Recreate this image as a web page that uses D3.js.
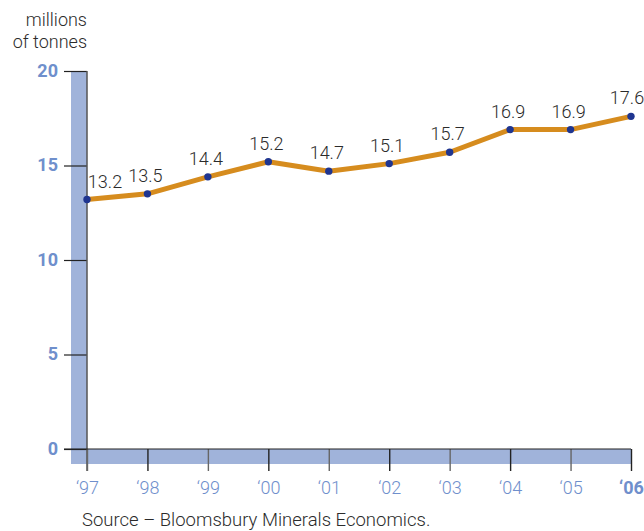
<!DOCTYPE html>
<html>
<head>
<meta charset="utf-8">
<script src="https://cdn.jsdelivr.net/npm/d3@7/dist/d3.min.js"></script>
<style>
  html, body { margin: 0; padding: 0; background: #fff; }
  svg { display: block; }
  text { font-family: Roboto, "Liberation Sans", sans-serif; }
</style>
</head>
<body>
<svg id="chart" width="644" height="531"></svg>
<script>
// Annual tonnage, 1997–2006
const years = ["'97", "'98", "'99", "'00", "'01", "'02", "'03", "'04", "'05", "'06"];
const values = [13.2, 13.5, 14.4, 15.2, 14.7, 15.1, 15.7, 16.9, 16.9, 17.6];
const yTicks = [0, 5, 10, 15, 20];
const unitLines = ["millions", "of tonnes"];
const sourceNote = "Source \u2013 Bloomsbury Minerals Economics.";

const svg = d3.select("#chart");

const x0 = 87, x1 = 631, yTop = 71, yBottom = 449;

const x = d3.scalePoint().domain(years).range([x0, x1]);
const y = d3.scaleLinear().domain([0, 20]).range([yBottom, yTop]);

const bandColor = "#a0b3da";
const labelBlue = "#6f8fcc";
const ink = "#2b2b2b";

// shaded bands behind both axes
svg.append("rect")
  .attr("x", x0 - 16).attr("y", yTop)
  .attr("width", 16).attr("height", yBottom + 15 - yTop)
  .attr("fill", bandColor);
svg.append("rect")
  .attr("x", x0 - 16).attr("y", yBottom)
  .attr("width", x1 - x0 + 16).attr("height", 15)
  .attr("fill", bandColor);

// y axis
const yAxis = d3.axisLeft(y).tickValues(yTicks).tickSize(23).tickPadding(6).tickFormat(d3.format("d"));
const gy = svg.append("g").attr("transform", `translate(${x0},0)`).call(yAxis);
gy.select(".domain").remove();
gy.selectAll(".tick line").attr("stroke", "#222").attr("stroke-width", 1.2);
gy.selectAll(".tick text")
  .attr("fill", labelBlue)
  .attr("font-size", 18)
  .attr("font-weight", 700)
  .attr("dy", "0.3em");
svg.append("line")
  .attr("x1", x0).attr("x2", x0)
  .attr("y1", yTop).attr("y2", yBottom + 22)
  .attr("stroke", "#555").attr("stroke-width", 1.5);

// x axis
const xAxis = d3.axisBottom(x).tickSize(22).tickPadding(10);
const gx = svg.append("g").attr("transform", `translate(0,${yBottom})`).call(xAxis);
gx.select(".domain").remove();
gx.selectAll(".tick line")
  .attr("stroke", (d, i) => i % 2 === 0 ? "#666" : "#222")
  .attr("stroke-width", 1.4);
gx.selectAll(".tick text")
  .attr("fill", labelBlue)
  .attr("font-size", 18)
  .attr("font-weight", d => d === "'06" ? 700 : 300)
  .text(d => d.replace("'", "\u2018"));
svg.append("line")
  .attr("x1", x0 - 23).attr("x2", x1)
  .attr("y1", yBottom).attr("y2", yBottom)
  .attr("stroke", "#222").attr("stroke-width", 1.2);

// series line
const line = d3.line().x((d, i) => x(years[i])).y(d => y(d));
svg.append("path")
  .datum(values)
  .attr("d", line)
  .attr("fill", "none")
  .attr("stroke", "#d68c1e")
  .attr("stroke-width", 5)
  .attr("stroke-linejoin", "round");

svg.selectAll("circle.pt")
  .data(values)
  .join("circle")
  .attr("class", "pt")
  .attr("cx", (d, i) => x(years[i]))
  .attr("cy", d => y(d))
  .attr("r", 3.7)
  .attr("fill", "#1f3590");

svg.selectAll("text.val")
  .data(values)
  .join("text")
  .attr("class", "val")
  .attr("x", (d, i) => x(years[i]) + (i === 0 ? 18 : (i === years.length - 1 ? -4 : -2)))
  .attr("y", d => y(d) - 12)
  .attr("text-anchor", "middle")
  .attr("font-size", 18)
  .attr("font-weight", 300)
  .attr("fill", ink)
  .text(d => d.toFixed(1));

// unit label
svg.append("text")
  .attr("x", 87).attr("y", 26)
  .attr("text-anchor", "end")
  .attr("font-size", 18)
  .attr("font-weight", 300)
  .attr("fill", ink)
  .selectAll("tspan")
  .data(unitLines)
  .join("tspan")
  .attr("x", 87)
  .attr("dy", (d, i) => i === 0 ? 0 : 22)
  .text(d => d);

// source note
svg.append("text")
  .attr("x", 82).attr("y", 526)
  .attr("font-size", 18.5)
  .attr("font-weight", 300)
  .attr("fill", ink)
  .text(sourceNote);
</script>
</body>
</html>
